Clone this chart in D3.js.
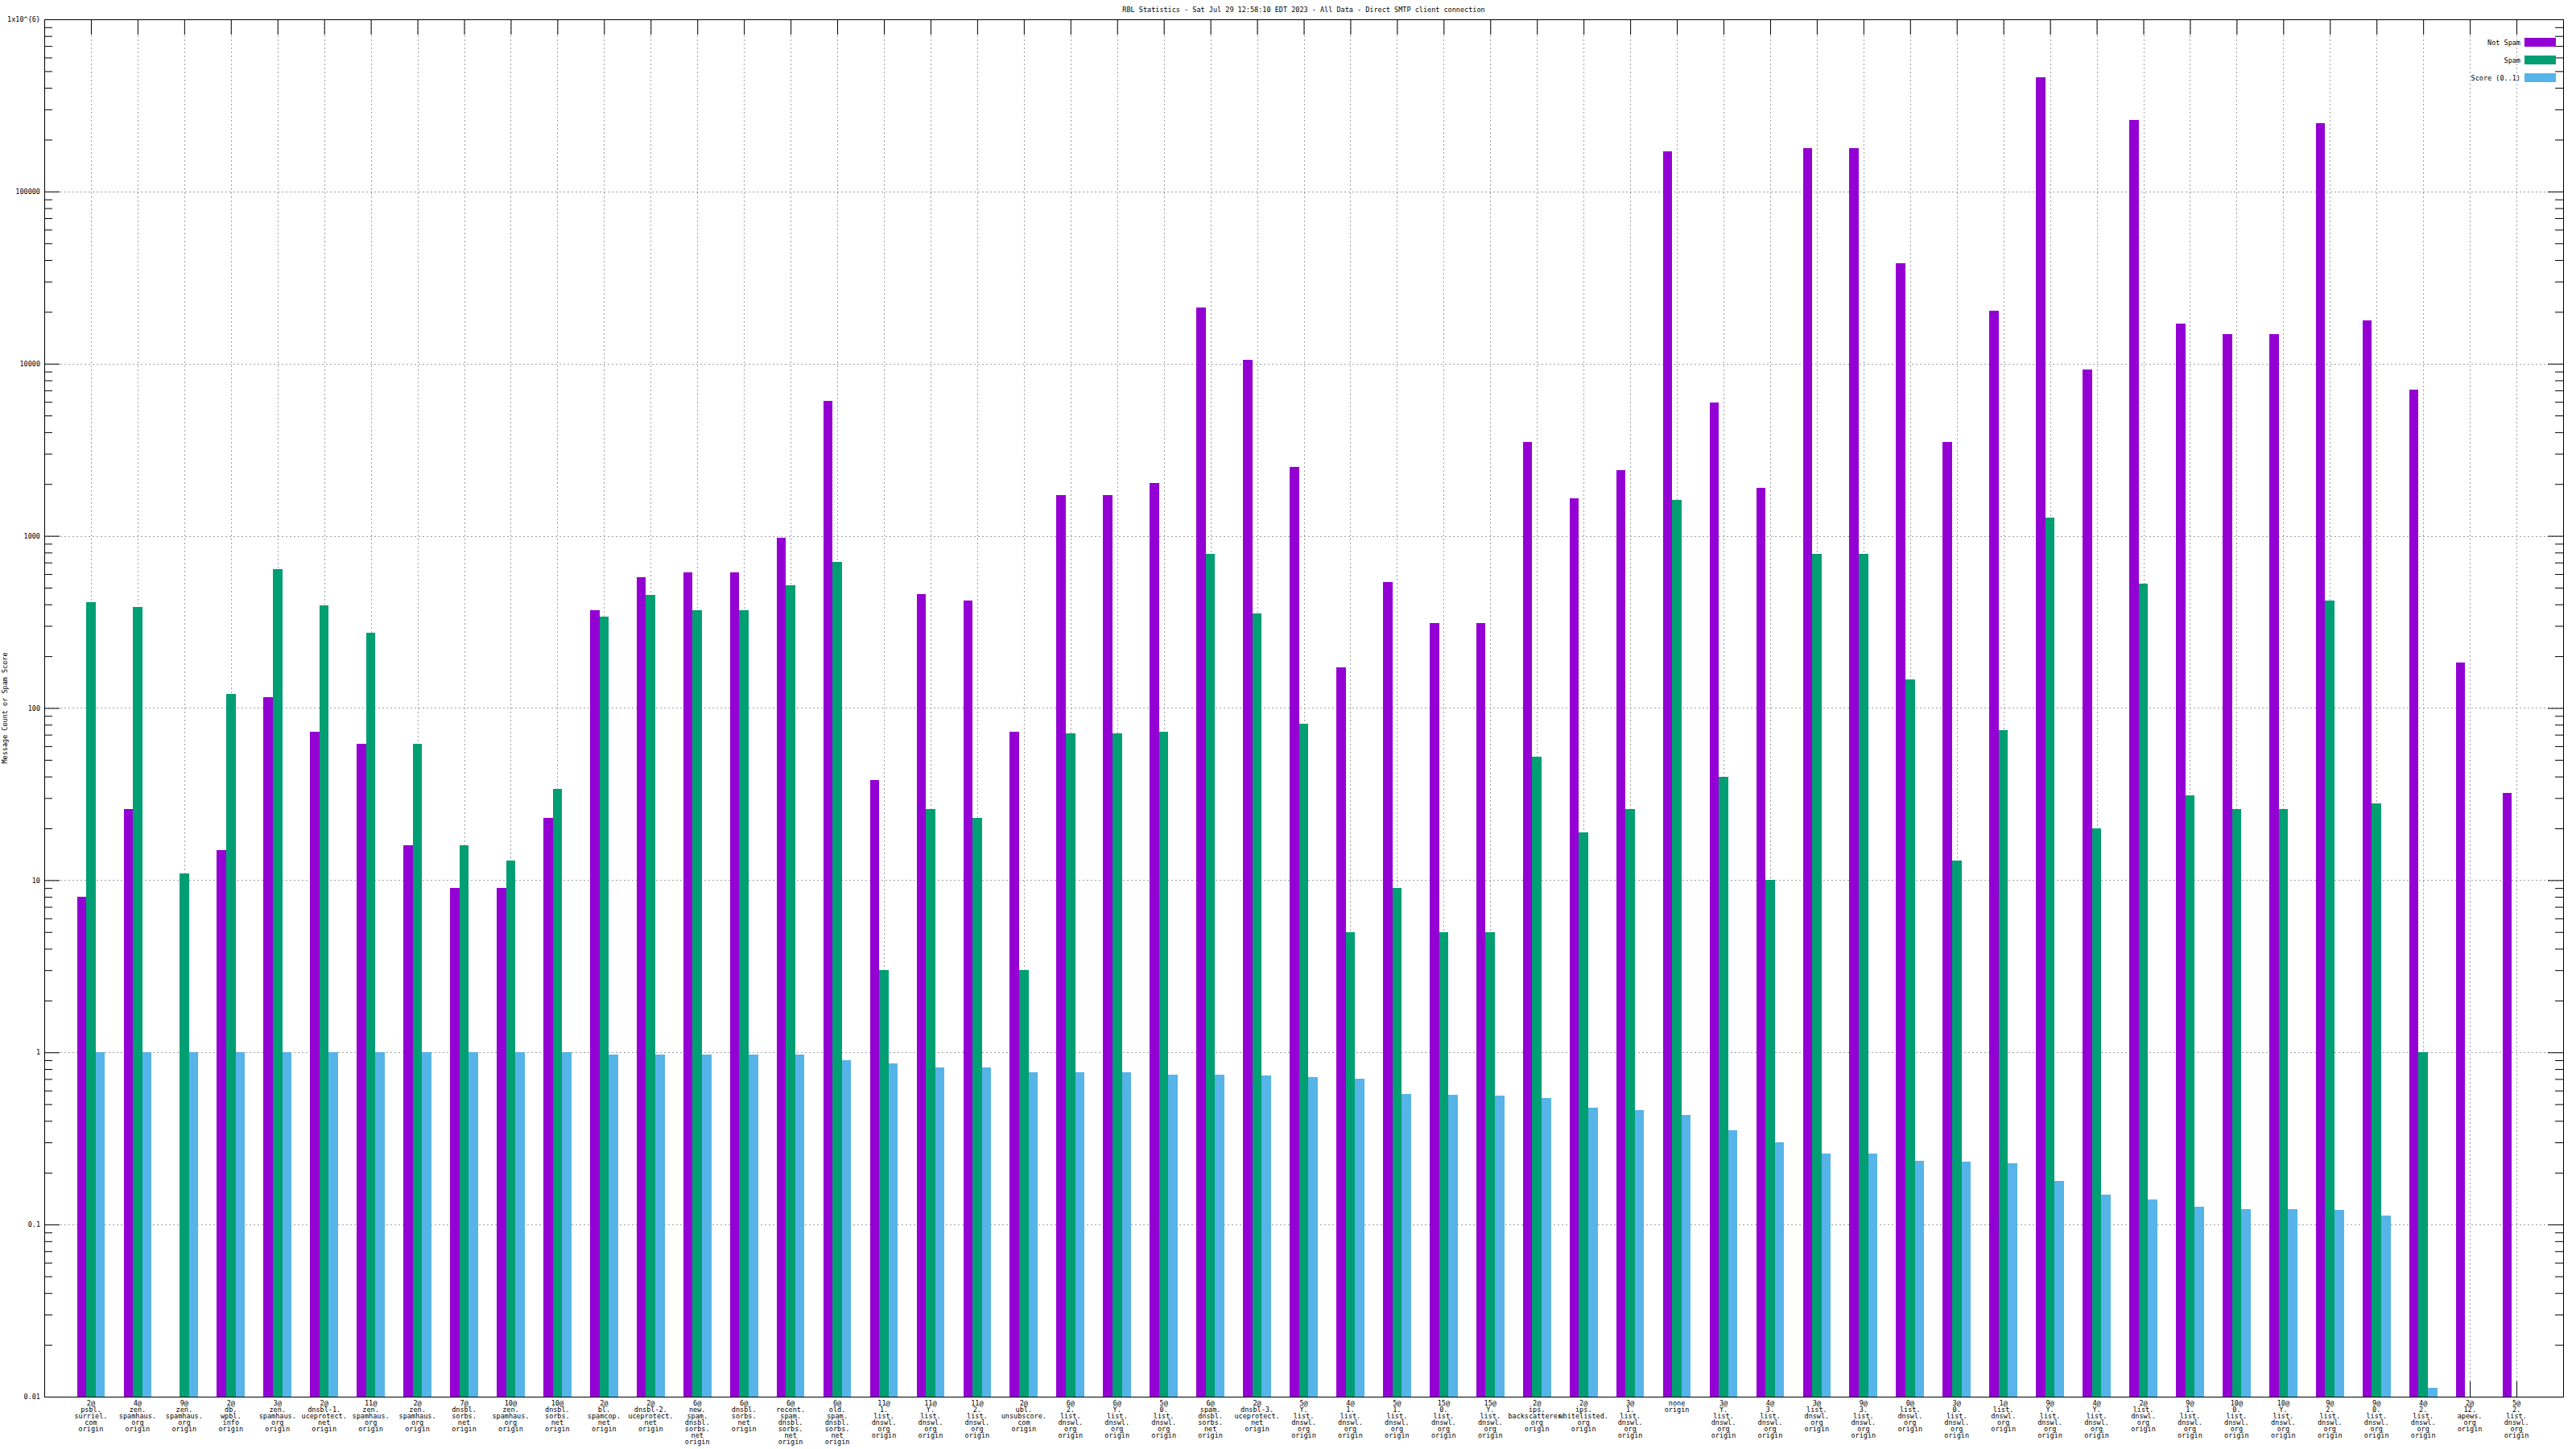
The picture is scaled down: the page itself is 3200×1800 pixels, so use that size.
<!DOCTYPE html>
<html>
<head>
<meta charset="utf-8">
<script src="https://cdn.jsdelivr.net/npm/d3@7"></script>
<style>
  html, body { margin: 0; padding: 0; background: #ffffff; }
  svg { display: block; }
  text { font-family: "DejaVu Sans Mono", "Liberation Mono", monospace; font-size: 8.5px; fill: #000; }
</style>
</head>
<body>
<script>
const titleText = "RBL Statistics - Sat Jul 29 12:58:10 EDT 2023 - All Data - Direct SMTP client connection";
const yLabelText = "Message Count or Spam Score";
const seriesNames = ["Not Spam", "Spam", "Score (0..1)"];
const seriesColors = ["#9400d3", "#009e73", "#56b4e9"];

const categories = [
  "2@\npsbl.\nsurriel.\ncom\norigin",
  "4@\nzen.\nspamhaus.\norg\norigin",
  "9@\nzen.\nspamhaus.\norg\norigin",
  "2@\ndb.\nwpbl.\ninfo\norigin",
  "3@\nzen.\nspamhaus.\norg\norigin",
  "2@\ndnsbl-1.\nuceprotect.\nnet\norigin",
  "11@\nzen.\nspamhaus.\norg\norigin",
  "2@\nzen.\nspamhaus.\norg\norigin",
  "7@\ndnsbl.\nsorbs.\nnet\norigin",
  "10@\nzen.\nspamhaus.\norg\norigin",
  "10@\ndnsbl.\nsorbs.\nnet\norigin",
  "2@\nbl.\nspamcop.\nnet\norigin",
  "2@\ndnsbl-2.\nuceprotect.\nnet\norigin",
  "6@\nnew.\nspam.\ndnsbl.\nsorbs.\nnet\norigin",
  "6@\ndnsbl.\nsorbs.\nnet\norigin",
  "6@\nrecent.\nspam.\ndnsbl.\nsorbs.\nnet\norigin",
  "6@\nold.\nspam.\ndnsbl.\nsorbs.\nnet\norigin",
  "11@\n1.\nlist.\ndnswl.\norg\norigin",
  "11@\nY.\nlist.\ndnswl.\norg\norigin",
  "11@\n2.\nlist.\ndnswl.\norg\norigin",
  "2@\nubl.\nunsubscore.\ncom\norigin",
  "6@\n2.\nlist.\ndnswl.\norg\norigin",
  "6@\nY.\nlist.\ndnswl.\norg\norigin",
  "5@\n0.\nlist.\ndnswl.\norg\norigin",
  "6@\nspam.\ndnsbl.\nsorbs.\nnet\norigin",
  "2@\ndnsbl-3.\nuceprotect.\nnet\norigin",
  "5@\nY.\nlist.\ndnswl.\norg\norigin",
  "4@\n1.\nlist.\ndnswl.\norg\norigin",
  "5@\n1.\nlist.\ndnswl.\norg\norigin",
  "15@\n0.\nlist.\ndnswl.\norg\norigin",
  "15@\nY.\nlist.\ndnswl.\norg\norigin",
  "2@\nips.\nbackscatterer.\norg\norigin",
  "2@\nips.\nwhitelisted.\norg\norigin",
  "3@\n1.\nlist.\ndnswl.\norg\norigin",
  "none\norigin",
  "3@\nY.\nlist.\ndnswl.\norg\norigin",
  "4@\n3.\nlist.\ndnswl.\norg\norigin",
  "3@\nlist.\ndnswl.\norg\norigin",
  "9@\n3.\nlist.\ndnswl.\norg\norigin",
  "0@\nlist.\ndnswl.\norg\norigin",
  "3@\n0.\nlist.\ndnswl.\norg\norigin",
  "1@\nlist.\ndnswl.\norg\norigin",
  "9@\nY.\nlist.\ndnswl.\norg\norigin",
  "4@\nY.\nlist.\ndnswl.\norg\norigin",
  "2@\nlist.\ndnswl.\norg\norigin",
  "9@\n1.\nlist.\ndnswl.\norg\norigin",
  "10@\n0.\nlist.\ndnswl.\norg\norigin",
  "10@\nY.\nlist.\ndnswl.\norg\norigin",
  "9@\n2.\nlist.\ndnswl.\norg\norigin",
  "9@\n0.\nlist.\ndnswl.\norg\norigin",
  "4@\n2.\nlist.\ndnswl.\norg\norigin",
  "2@\n12.\napews.\norg\norigin",
  "5@\n2.\nlist.\ndnswl.\norg\norigin"
];

const notSpam = [8, 26, 0, 15, 116, 73, 62, 16, 9, 9,
  23, 370, 575, 615, 615, 975, 6060, 38, 460, 420,
  73, 1730, 1730, 2020, 21200, 10500, 2510, 172, 540, 311,
  311, 3500, 1655, 2400, 171000, 5930, 1890, 179000, 179000, 38400,
  3500, 20300, 461000, 9200, 260000, 17000, 14900, 14900, 249000, 17800,
  7060, 184, 32];

const spam = [414, 388, 11, 121, 643, 396, 273, 62, 16, 13,
  34, 340, 452, 371, 371, 517, 702, 3, 26, 23,
  3, 71, 71, 73, 783, 355, 81, 5, 9, 5,
  5, 52, 19, 26, 1620, 40, 10, 783, 783, 147,
  13, 74, 1270, 20, 527, 31, 26, 26, 423, 28,
  1, 0, 0];

const score = [1, 1, 1, 1, 1, 1, 1, 1, 1, 1,
  1, 0.97, 0.97, 0.97, 0.97, 0.97, 0.901, 0.863, 0.818, 0.818,
  0.767, 0.767, 0.767, 0.742, 0.742, 0.734, 0.719, 0.703, 0.573, 0.567,
  0.561, 0.543, 0.477, 0.462, 0.433, 0.353, 0.300, 0.258, 0.258, 0.234,
  0.232, 0.227, 0.179, 0.149, 0.140, 0.127, 0.1227, 0.1227, 0.1214, 0.1125,
  0.0113, 0, 0];

const yMajorTicks = [0.01, 0.1, 1, 10, 100, 1000, 10000, 100000, 1000000];
const yTickLabels = ["0.01", "0.1", "1", "10", "100", "1000", "10000", "100000", "1x10^{6}"];

// ---- layout ----
const W = 3200, H = 1800;
const L = 55, R = 3184, T = 24, B = 1735;

const svg = d3.select("body").append("svg")
  .attr("width", W).attr("height", H)
  .attr("viewBox", `0 0 ${W} ${H}`);

svg.append("rect").attr("width", W).attr("height", H).attr("fill", "#fff");

const x = d3.scaleLinear().domain([-1, categories.length]).range([L, R]);
const y = d3.scaleLog().domain([0.01, 1e6]).range([B, T]);

const yMinorTicks = [];
for (let e = -2; e < 6; e++) {
  for (let m = 2; m <= 9; m++) yMinorTicks.push(m * Math.pow(10, e));
}
const catIdx = d3.range(categories.length);

// grid
const grid = svg.append("g").attr("stroke", "#a0a0a0").attr("stroke-width", 1)
  .attr("stroke-dasharray", "2,3").attr("shape-rendering", "crispEdges");
grid.selectAll("line.h").data(yMajorTicks.slice(1, -1)).enter().append("line")
  .attr("x1", L).attr("x2", R)
  .attr("y1", d => Math.round(y(d)) + 0.5).attr("y2", d => Math.round(y(d)) + 0.5);
grid.selectAll("line.v").data(catIdx).enter().append("line")
  .attr("y1", T).attr("y2", B)
  .attr("x1", d => Math.round(x(d)) + 0.5).attr("x2", d => Math.round(x(d)) + 0.5);

// axes (ticks pointing inward)
function styleAxis(g) {
  g.selectAll(".domain").remove();
  g.selectAll("line").attr("stroke", "#000").attr("stroke-width", 1);
  g.selectAll("text").attr("fill", "#000")
    .style("font-family", '"DejaVu Sans Mono", monospace').style("font-size", "8.5px");
}

svg.append("g").attr("transform", `translate(${L},0)`)
  .call(d3.axisLeft(y).tickValues(yMinorTicks).tickSizeInner(-10).tickSizeOuter(0).tickFormat(""))
  .call(styleAxis);
svg.append("g").attr("transform", `translate(${L},0)`)
  .call(d3.axisLeft(y).tickValues(yMajorTicks).tickSizeInner(-19).tickSizeOuter(0).tickPadding(5)
    .tickFormat((d, i) => yTickLabels[i]))
  .call(styleAxis);
svg.append("g").attr("transform", `translate(${R},0)`)
  .call(d3.axisRight(y).tickValues(yMinorTicks).tickSizeInner(-10).tickSizeOuter(0).tickFormat(""))
  .call(styleAxis);
svg.append("g").attr("transform", `translate(${R},0)`)
  .call(d3.axisRight(y).tickValues(yMajorTicks).tickSizeInner(-19).tickSizeOuter(0).tickFormat(""))
  .call(styleAxis);
svg.append("g").attr("transform", `translate(0,${B})`)
  .call(d3.axisBottom(x).tickValues(catIdx).tickSizeInner(-19).tickSizeOuter(0).tickFormat(""))
  .call(styleAxis);
svg.append("g").attr("transform", `translate(0,${T})`)
  .call(d3.axisTop(x).tickValues(catIdx).tickSizeInner(-19).tickSizeOuter(0).tickFormat(""))
  .call(styleAxis);

// bars
const series = [notSpam, spam, score];
const offsets = [-0.3, -0.1, 0.1];
const bw = 0.2;
series.forEach((vals, s) => {
  svg.append("g").attr("fill", seriesColors[s]).attr("shape-rendering", "crispEdges")
    .selectAll("rect").data(vals.map((v, i) => ({ v, i })).filter(d => d.v > 0))
    .enter().append("rect")
    .attr("x", d => x(d.i + offsets[s]))
    .attr("width", d => x(d.i + offsets[s] + bw) - x(d.i + offsets[s]))
    .attr("y", d => y(d.v))
    .attr("height", d => B - y(d.v));
});

// border
svg.append("rect").attr("x", L + 0.5).attr("y", T + 0.5)
  .attr("width", R - L).attr("height", B - T)
  .attr("fill", "none").attr("stroke", "#000").attr("stroke-width", 1)
  .attr("shape-rendering", "crispEdges");

// x labels
const xl = svg.append("g").attr("text-anchor", "middle");
categories.forEach((c, i) => {
  const t = xl.append("text").attr("x", x(i)).attr("y", 1746);
  c.split("\n").forEach((line, k) => {
    t.append("tspan").attr("x", x(i)).attr("y", 1746 + k * 8).text(line);
  });
});

// title
svg.append("text").attr("x", (L + R) / 2).attr("y", 15).attr("text-anchor", "middle").text(titleText);

// y label
svg.append("text").attr("transform", `translate(9,${(T + B) / 2}) rotate(-90)`)
  .attr("text-anchor", "middle").text(yLabelText);

// legend
const legRows = [53, 75, 97];
seriesNames.forEach((n, s) => {
  svg.append("text").attr("x", 3131).attr("y", legRows[s] + 3).attr("text-anchor", "end").text(n);
  svg.append("rect").attr("x", 3136).attr("y", legRows[s] - 6).attr("width", 39).attr("height", 11)
    .attr("fill", seriesColors[s]);
});
</script>
</body>
</html>
